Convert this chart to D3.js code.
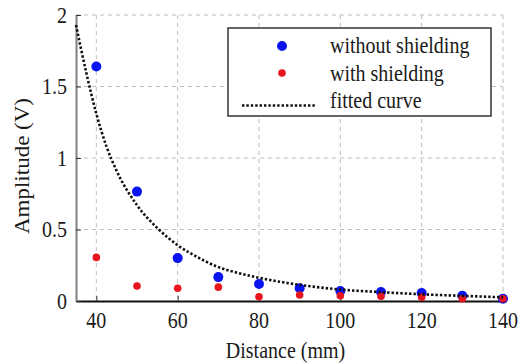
<!DOCTYPE html>
<html>
<head>
<meta charset="utf-8">
<script src="https://cdn.jsdelivr.net/npm/d3@7"></script>
<style>
  html, body { margin: 0; padding: 0; background: #fff; }
  svg { display: block; }
  text { font-family: "Liberation Serif", "Times New Roman", serif; }
</style>
</head>
<body>
<svg id="chart" width="521" height="364"></svg>
<script>
// ---- data ----
const distances = [40, 50, 60, 70, 80, 90, 100, 110, 120, 130, 140];
const withoutShielding = [1.64, 0.765, 0.30, 0.167, 0.119, 0.089, 0.07, 0.063, 0.056, 0.037, 0.016];
const withShielding = [0.305, 0.105, 0.089, 0.097, 0.03, 0.042, 0.037, 0.033, 0.027, 0.016, 0.016];
const fitX = [35, 37.5, 40, 42.5, 45, 50, 55, 60, 65, 70, 75, 80, 90, 100, 110, 120, 130, 140];
const fitY = [1.93, 1.6, 1.31, 1.08, 0.91, 0.67, 0.51, 0.39, 0.305, 0.237, 0.195, 0.162, 0.113, 0.08, 0.062, 0.047, 0.036, 0.026];
const xTicks = [40, 60, 80, 100, 120, 140];
const yTicks = [0, 0.5, 1, 1.5, 2];
const yTickLabels = ["0", "0.5", "1", "1.5", "2"];
const legendLabels = ["without shielding", "with shielding", "fitted curve"];
const xLabel = "Distance (mm)";
const yLabel = "Amplitude (V)";

const svg = d3.select("#chart");
const L = 76, R = 503, T = 15, B = 301;
const SY = 1.15; // vertical text stretch seen in the reference
const FONT = "'Liberation Serif', 'Times New Roman', serif";
const TXT = "#1a1a1a";

const x = d3.scaleLinear().domain([35, 140]).range([L, R]);
const y = d3.scaleLinear().domain([0, 2]).range([B, T]);

// grid
const grid = svg.append("g");
grid.selectAll(".vg").data(xTicks).enter().append("line")
  .attr("x1", d => x(d)).attr("x2", d => x(d))
  .attr("y1", T).attr("y2", B)
  .attr("stroke", "#bdbdbd").attr("stroke-width", 1).attr("stroke-dasharray", "4,4");
grid.selectAll(".hg").data(yTicks.filter(d => d > 0)).enter().append("line")
  .attr("x1", L).attr("x2", R)
  .attr("y1", d => y(d)).attr("y2", d => y(d))
  .attr("stroke", "#bdbdbd").attr("stroke-width", 1).attr("stroke-dasharray", "4,4");

// axes
const xAxis = svg.append("g").attr("transform", `translate(0,${B})`)
  .call(d3.axisBottom(x).tickValues(xTicks).tickSizeInner(-5).tickSizeOuter(0).tickFormat(""));
xAxis.select(".domain").attr("stroke", "#111").attr("stroke-width", 2);
xAxis.selectAll(".tick line").attr("stroke", "#333").attr("stroke-width", 1);

const yAxis = svg.append("g").attr("transform", `translate(${L},0)`)
  .call(d3.axisLeft(y).tickValues(yTicks).tickSizeInner(-5).tickSizeOuter(0).tickFormat(""));
yAxis.select(".domain").attr("stroke", "#808080").attr("stroke-width", 2);
yAxis.selectAll(".tick line").attr("stroke", "#333").attr("stroke-width", 1);

// tick labels (stretched vertically like the reference)
svg.selectAll(".xt").data(xTicks).enter().append("text")
  .attr("transform", d => `translate(${x(d)},328) scale(1,${SY})`)
  .attr("text-anchor", "middle")
  .style("font-family", FONT).attr("font-size", 20).attr("fill", TXT)
  .text(d => d);
svg.selectAll(".yt").data(yTicks).enter().append("text")
  .attr("transform", (d, i) => `translate(67,${y(d) + 7.5}) scale(1,${SY})`)
  .attr("text-anchor", "end")
  .style("font-family", FONT).attr("font-size", 20).attr("fill", TXT)
  .text((d, i) => yTickLabels[i]);

// axis titles
svg.append("text")
  .attr("transform", `translate(${(L + R) / 2 - 4},358) scale(1,${SY})`)
  .attr("text-anchor", "middle")
  .style("font-family", FONT).attr("font-size", 20).attr("fill", TXT)
  .text(xLabel);
svg.append("text")
  .attr("transform", `translate(29,166) rotate(-90) scale(${SY},1)`)
  .attr("text-anchor", "middle")
  .style("font-family", FONT).attr("font-size", 20).attr("fill", TXT)
  .text(yLabel);

// points
svg.append("g").selectAll("circle").data(distances).enter().append("circle")
  .attr("cx", d => x(d)).attr("cy", (d, i) => y(withoutShielding[i]))
  .attr("r", 5).attr("fill", "#0a14f0");
svg.append("g").selectAll("circle").data(distances).enter().append("circle")
  .attr("cx", d => x(d)).attr("cy", (d, i) => y(withShielding[i]))
  .attr("r", 3.8).attr("fill", "#e8141e");

// fitted curve
const line = d3.line().x(d => x(d[0])).y(d => y(d[1])).curve(d3.curveMonotoneX);
svg.append("path")
  .datum(fitX.map((v, i) => [v, fitY[i]]))
  .attr("d", line)
  .attr("fill", "none").attr("stroke", "#111").attr("stroke-width", 2.6)
  .attr("stroke-dasharray", "2.4,2");

// legend
const lg = svg.append("g");
lg.append("rect").attr("x", 228).attr("y", 28).attr("width", 263).attr("height", 88)
  .attr("fill", "#fff").attr("stroke", "#333").attr("stroke-width", 1.5);
const rows = [46, 73, 100];
lg.append("circle").attr("cx", 282).attr("cy", rows[0]).attr("r", 5).attr("fill", "#0a14f0");
lg.append("circle").attr("cx", 282).attr("cy", rows[1]).attr("r", 3.8).attr("fill", "#e8141e");
lg.append("line").attr("x1", 242).attr("x2", 315).attr("y1", 105.5).attr("y2", 105.5)
  .attr("stroke", "#111").attr("stroke-width", 2.6).attr("stroke-dasharray", "2.4,2");
lg.selectAll(".lt").data(legendLabels).enter().append("text")
  .attr("transform", (d, i) => `translate(330,${[53, 80.5, 108][i]}) scale(1,${SY})`)
  .style("font-family", FONT).attr("font-size", 20).attr("fill", TXT)
  .text(d => d);
</script>
</body>
</html>
